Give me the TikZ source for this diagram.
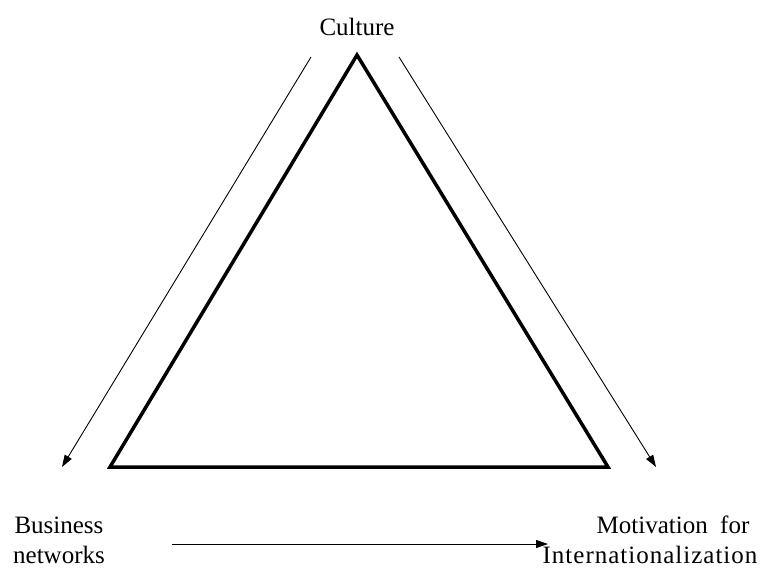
\documentclass[tikz,border=0pt]{standalone}
\usepackage{fontspec}
\setmainfont{Liberation Serif}
\usetikzlibrary{arrows.meta}
\begin{document}
\begin{tikzpicture}[x=1pt,y=-1pt,
  lbl/.style={font=\fontsize{25}{30}\selectfont, align=center, inner sep=0pt},
  thin arrow/.style={line width=0.9pt, -{Triangle[length=12pt,width=8pt]}},
  tri/.style={line width=3.5pt, line join=miter}]
\useasboundingbox (0,0) rectangle (781,570);
% triangle vertices
\coordinate (top) at (357,55);
\coordinate (bl) at (110,467);
\coordinate (br) at (608,467);
\draw[tri] (top) -- (bl) -- (br) -- cycle;
% labels
\node[lbl] (culture) at (357,27) {Culture};
\node[lbl] (business) at (59,540) {Business\\networks};
\node[lbl] (motivation) at (650,540) {\hspace*{46pt}Motivation~~for\\{\addfontfeature{LetterSpace=4}Internationalization}};
% arrow ends
\coordinate (l1) at (311,57);
\coordinate (l2) at (62,467);
\coordinate (r1) at (399,57);
\coordinate (r2) at (656,467);
\coordinate (b1) at (172,544);
\coordinate (b2) at (548,544);
\draw[thin arrow] (l1) -- (l2);
\draw[thin arrow] (r1) -- (r2);
\draw[thin arrow] (b1) -- (b2);
\end{tikzpicture}
\end{document}
